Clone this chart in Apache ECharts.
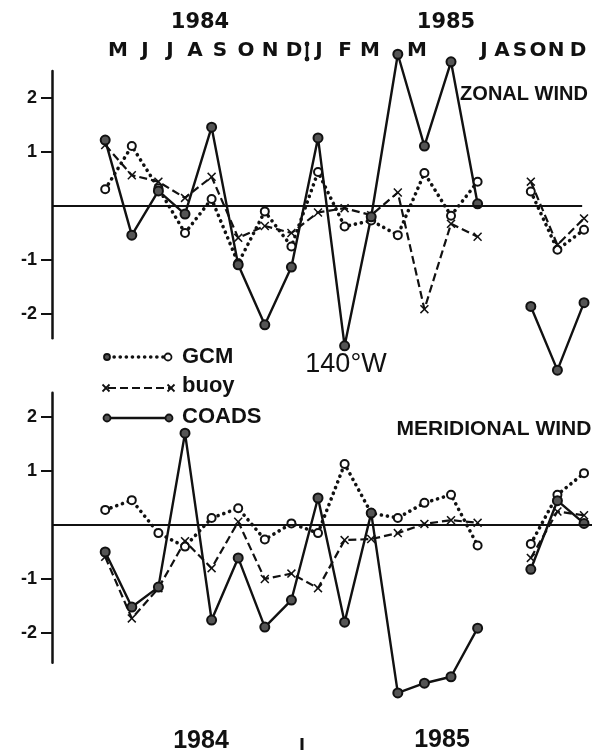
<!DOCTYPE html>
<html>
<head>
<meta charset="utf-8">
<style>
  html, body { margin: 0; padding: 0; background: #fff; }
  #chart { width: 592px; height: 755px; }
</style>
<script src="https://cdn.jsdelivr.net/npm/echarts@6/dist/echarts.min.js"></script>
</head>
<body>
<div id="chart"></div>
<script>
// index 0 = May 1984 ... 18 = Nov 1985 (Aug 1985 missing)
var months = ["May84", "Jun84", "Jul84", "Aug84", "Sep84", "Oct84", "Nov84", "Dec84",
  "Jan85", "Feb85", "Mar85", "Apr85", "May85", "Jun85", "Jul85", "Aug85", "Sep85", "Oct85", "Nov85"];

var zonalGCM   = [0.31, 1.11, 0.33, -0.50, 0.13, -1.06, -0.10, -0.75, 0.63, -0.38, -0.27, -0.54, 0.61, -0.18, 0.45, null, 0.27, -0.81, -0.44];
var zonalBuoy  = [1.13, 0.57, 0.45, 0.15, 0.54, -0.59, -0.37, -0.50, -0.12, -0.04, -0.17, 0.25, -1.91, -0.33, -0.57, null, 0.45, -0.72, -0.23];
var zonalCOADS = [1.22, -0.54, 0.28, -0.15, 1.46, -1.09, -2.20, -1.13, 1.26, -2.59, -0.20, 2.81, 1.11, 2.67, 0.04, null, -1.86, -3.04, -1.79];

var meridGCM   = [0.28, 0.46, -0.15, -0.40, 0.13, 0.31, -0.27, 0.03, -0.15, 1.13, 0.22, 0.13, 0.41, 0.56, -0.38, null, -0.35, 0.56, 0.96];
var meridBuoy  = [-0.59, -1.73, -1.17, -0.30, -0.80, 0.06, -1.00, -0.90, -1.17, -0.28, -0.26, -0.15, 0.02, 0.09, 0.04, null, -0.61, 0.25, 0.18];
var meridCOADS = [-0.50, -1.52, -1.15, 1.70, -1.76, -0.61, -1.89, -1.39, 0.50, -1.80, 0.22, -3.11, -2.93, -2.81, -1.91, null, -0.82, 0.45, 0.03];

var yTicks = [-2, -1, 1, 2];
var monthLetters = ["M", "J", "J", "A", "S", "O", "N", "D", "J", "F", "M", null, "M", null, "J", "A", "S", "O", "N", "D"];
var monthLetterX = [118, 145, 170, 195, 220, 246, 270, 294, 319, 345, 370, 395, 417, 450, 484, 502, 520, 538, 556, 578];

var INK = "#111";
var crossPath = "path://M0,1.2L1.2,0L5,3.8L8.8,0L10,1.2L6.2,5L10,8.8L8.8,10L5,6.2L1.2,10L0,8.8L3.8,5Z";

function pairs(arr) {
  return arr.map(function (v, i) { return [i, v]; });
}

function gcmSeries(data, idx) {
  return {
    type: "line", xAxisIndex: idx, yAxisIndex: idx, data: pairs(data), clip: false,
    symbol: "emptyCircle", symbolSize: 8,
    itemStyle: { color: INK, borderWidth: 1.8 },
    lineStyle: { color: INK, width: 3.6, type: [0.1, 6], cap: "round" }
  };
}
function buoySeries(data, idx) {
  return {
    type: "line", xAxisIndex: idx, yAxisIndex: idx, data: pairs(data), clip: false,
    symbol: crossPath, symbolSize: 9,
    itemStyle: { color: INK },
    lineStyle: { color: INK, width: 2.2, type: [8, 4] }
  };
}
function coadsSeries(data, idx, zeroEnd) {
  return {
    type: "line", xAxisIndex: idx, yAxisIndex: idx, data: pairs(data), clip: false,
    symbol: "circle", symbolSize: 9,
    itemStyle: { color: "#555", borderColor: INK, borderWidth: 2 },
    lineStyle: { color: INK, width: 2.4 },
    markLine: {
      silent: true, symbol: "none", label: { show: false },
      lineStyle: { color: INK, width: 2.2, type: "solid" },
      data: [[{ coord: [-2, 0] }, { coord: [zeroEnd, 0] }]]
    }
  };
}

function yAxis(idx, min, max) {
  return {
    type: "value", gridIndex: idx, min: min, max: max,
    splitLine: { show: false },
    axisLine: { show: true, onZero: false, lineStyle: { color: INK, width: 2.5 } },
    axisTick: { show: true, length: 11, customValues: yTicks, lineStyle: { color: INK, width: 2 } },
    axisLabel: {
      customValues: yTicks, margin: 15, color: INK,
      fontFamily: "Liberation Sans", fontWeight: "bold", fontSize: 18,
      formatter: function (v) { return v < 0 ? "-" + Math.abs(v) : String(v); }
    }
  };
}
function xAxis(idx) {
  return { type: "value", gridIndex: idx, min: -2, max: 18.3, show: false };
}

function txt(str, x, y, font, align) {
  return {
    type: "text", x: x, y: y, silent: true,
    style: {
      text: str, font: font, fill: INK,
      align: align || "center", textAlign: align || "center",
      verticalAlign: "middle", textVerticalAlign: "middle"
    }
  };
}
function dot(x, y, r, hollow) {
  return {
    type: "circle", shape: { cx: x, cy: y, r: r }, silent: true,
    style: { fill: hollow ? "#fff" : "#555", stroke: INK, lineWidth: 1.8 }
  };
}
function seg(x1, y1, x2, y2, w, dash, cap) {
  return {
    type: "line", shape: { x1: x1, y1: y1, x2: x2, y2: y2 }, silent: true,
    style: { stroke: INK, lineWidth: w, lineDash: dash || null, lineCap: cap || "butt" }
  };
}
function cross(x, y) {
  return [seg(x - 3.5, y - 3.5, x + 3.5, y + 3.5, 1.8), seg(x - 3.5, y + 3.5, x + 3.5, y - 3.5, 1.8)];
}

var graphics = [];
var legendFont = 'bold 22px "Liberation Sans"';
// legend
graphics.push(seg(108, 357, 168, 357, 3.6, [0.1, 6], "round"));
graphics.push(dot(107, 357, 3, false), dot(168, 357, 3.5, true));
graphics.push(txt("GCM", 182, 357, legendFont, "left"));
graphics.push(seg(108, 388, 170, 388, 2.2, [8, 4]));
graphics = graphics.concat(cross(106, 388), cross(171, 388));
graphics.push(txt("buoy", 182, 386, legendFont, "left"));
graphics.push(seg(108, 418, 169, 418, 2.4));
graphics.push(dot(107, 418, 3.5, false), dot(169, 418, 3.5, false));
graphics.push(txt("COADS", 182, 417, legendFont, "left"));

// titles and year labels
graphics.push(txt("1984", 200, 23, 'bold 21px "DejaVu Sans"'));
graphics.push(txt("1985", 446, 23, 'bold 21px "DejaVu Sans"'));
graphics.push(txt("ZONAL WIND", 524, 94, 'bold 20px "Liberation Sans"'));
graphics.push(txt("MERIDIONAL WIND", 494, 429, 'bold 21px "Liberation Sans"'));
graphics.push(txt("140°W", 346, 365, '27px "Liberation Sans"'));
graphics.push(txt("1984", 201, 741, 'bold 25px "Liberation Sans"'));
graphics.push(txt("1985", 442, 740, 'bold 25px "Liberation Sans"'));
graphics.push(seg(302, 738, 302, 750, 3));

monthLetters.forEach(function (m, i) {
  if (m) graphics.push(txt(m, monthLetterX[i], 51, 'bold 20px "DejaVu Sans"'));
});
graphics.push(seg(307, 44, 307, 59, 2.5));
graphics.push(dot(307, 44, 1.5, false), dot(307, 59, 1.5, false));

var chart = echarts.init(document.getElementById("chart"), null, { renderer: "canvas" });
chart.setOption({
  animation: false,
  backgroundColor: "#fff",
  grid: [
    { left: 52, width: 540, top: 71, height: 267.3 },
    { left: 52, width: 540, top: 392.7, height: 270 }
  ],
  xAxis: [xAxis(0), xAxis(1)],
  yAxis: [yAxis(0, -2.45, 2.5), yAxis(1, -2.55, 2.45)],
  series: [
    gcmSeries(zonalGCM, 0), buoySeries(zonalBuoy, 0), coadsSeries(zonalCOADS, 0, 17.93),
    gcmSeries(meridGCM, 1), buoySeries(meridBuoy, 1), coadsSeries(meridCOADS, 1, 18.3)
  ],
  graphic: graphics
});
</script>
</body>
</html>
